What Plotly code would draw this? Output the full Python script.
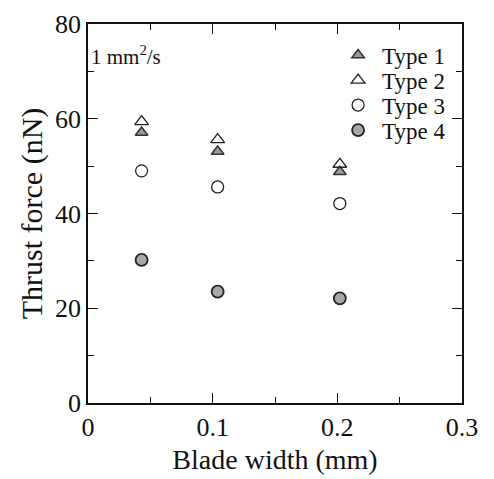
import plotly.graph_objects as go

blade_width = [0.043, 0.104, 0.202]
type1 = [57.1, 53.1, 48.8]
type2 = [59.4, 55.6, 50.4]
type3 = [49.0, 45.6, 42.1]
type4 = [30.2, 23.5, 22.1]
x_ticks = [0, 0.1, 0.2, 0.3]
y_ticks = [0, 20, 40, 60, 80]
series_names = ["Type 1", "Type 2", "Type 3", "Type 4"]

FONT = "Liberation Serif"
fig = go.Figure()
styles = [
    dict(symbol="triangle-up", size=11, color="#9a9a9a", line=dict(color="#333", width=1.5)),
    dict(symbol="triangle-up-open", size=12, color="#222", line=dict(width=1.3)),
    dict(symbol="circle-open", size=12, color="#222", line=dict(width=1.3)),
    dict(symbol="circle", size=12, color="#a8a8a8", line=dict(color="#222", width=1.8)),
]
values = [type1, type2, type3, type4]
legend_ids = ["legend", "legend2", "legend3", "legend4"]
for name, vals, st, lg in zip(series_names, values, styles, legend_ids):
    fig.add_trace(go.Scatter(x=blade_width, y=vals, mode="markers", name=name,
                             marker=st, legend=lg))

axis_common = dict(showgrid=False, zeroline=False, showline=True, linecolor="#111", linewidth=1.5,
                   mirror="allticks", ticks="inside", ticklen=10, tickwidth=1.3, tickcolor="#111",
                   tickfont=dict(family=FONT, size=26, color="#111"), automargin=False)
fig.update_xaxes(range=[0, 0.3], tickvals=x_ticks, ticktext=["0", "0.1", "0.2", "0.3"],
                 minor=dict(dtick=0.05, ticks="inside", ticklen=6, tickcolor="#111", tickwidth=1.2),
                 title=dict(text="Blade width (mm)", font=dict(family=FONT, size=28, color="#111"), standoff=8),
                 **axis_common)
fig.update_yaxes(range=[0, 80], tickvals=y_ticks,
                 minor=dict(dtick=10, ticks="inside", ticklen=6, tickcolor="#111", tickwidth=1.2),
                 title=dict(text="Thrust force (nN)", font=dict(family=FONT, size=30, color="#111"), standoff=4),
                 **axis_common)
fig.add_annotation(text="1 mm<sup>2</sup>/s", xref="paper", yref="paper", x=0.004, y=0.918,
                   xanchor="left", yanchor="middle", showarrow=False,
                   font=dict(family=FONT, size=21, color="#111"))

legend_rows = [0.918, 0.852, 0.786, 0.720]
leg_common = dict(x=0.658, xanchor="left", yanchor="middle", bgcolor="rgba(0,0,0,0)",
                  font=dict(family=FONT, size=23, color="#111"), itemwidth=38, borderwidth=0)
layout_legends = {lg: dict(y=yy, **leg_common) for lg, yy in zip(legend_ids, legend_rows)}

fig.update_layout(width=486, height=471, margin=dict(l=80, r=32, t=16, b=76),
                  plot_bgcolor="white", paper_bgcolor="white", showlegend=True,
                  **layout_legends)
fig.write_html("out.html")
